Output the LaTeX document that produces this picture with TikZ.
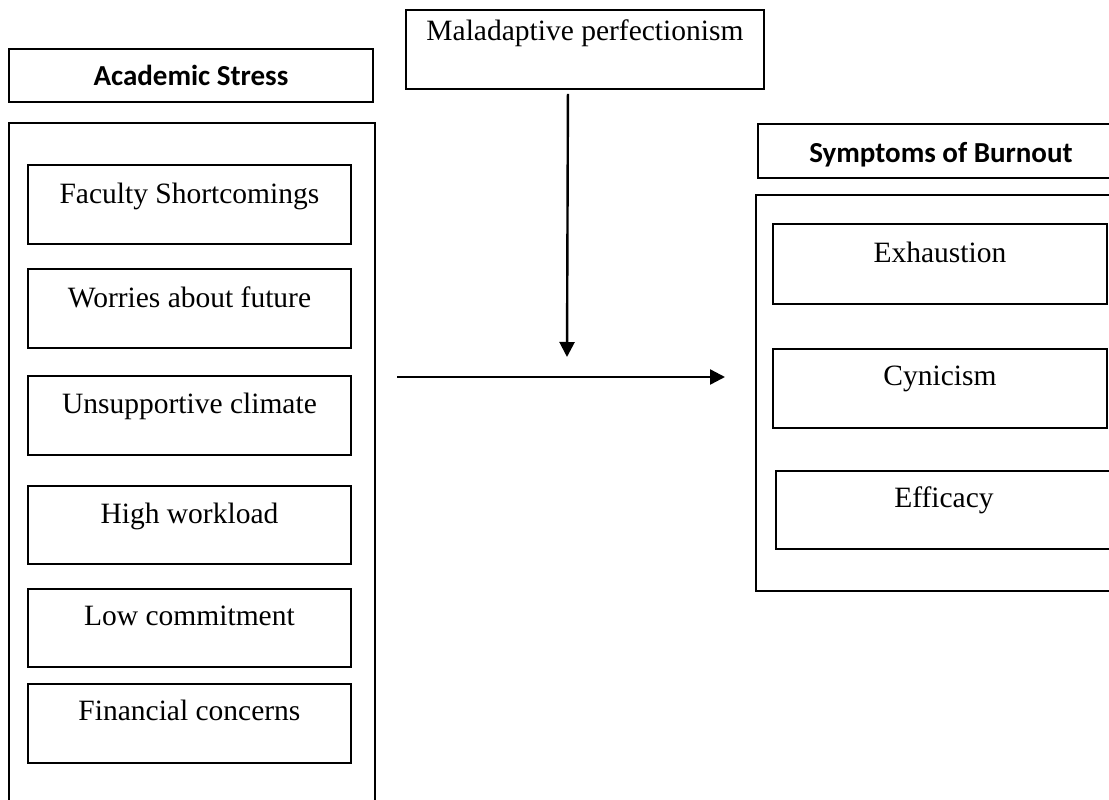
\documentclass[tikz,border=0pt]{standalone}
\usepackage{fontspec}
\setmainfont{Liberation Serif}
\newfontfamily\headfont{Carlito}
\usetikzlibrary{arrows.meta}
\begin{document}
\begin{tikzpicture}[x=1pt,y=-1pt,
  bx/.style={draw=black, line width=1.9pt, inner sep=0pt, anchor=north west,
    font=\fontsize{29.5}{34}\selectfont},
  hd/.style={bx, font=\headfont\bfseries\fontsize{29}{34}\selectfont},
  arr/.style={line width=2.4pt, -{Triangle[length=15pt,width=15pt]}}]
\clip (0,0) rectangle (1109,800);
\fill[white] (0,0) rectangle (1109,800);
% left column
\node[hd, minimum width=364pt, text height=37pt, text depth=16pt] (acad) at (8,48) {Academic Stress};
\node[bx, minimum width=366pt, minimum height=700pt] (outerL) at (8,122) {};
\node[bx, minimum width=323pt, text height=39pt, text depth=40pt] (fac) at (27,164) {Faculty Shortcomings};
\node[bx, minimum width=323pt, text height=39pt, text depth=40pt] (wor) at (27,268) {Worries about future};
\node[bx, minimum width=323pt, text height=38pt, text depth=41pt] (uns) at (27,375) {Unsupportive climate};
\node[bx, minimum width=323pt, text height=38pt, text depth=40pt] (high) at (27,485) {High workload};
\node[bx, minimum width=323pt, text height=37pt, text depth=41pt] (low) at (27,588) {Low commitment};
\node[bx, minimum width=323pt, text height=37pt, text depth=42pt] (fin) at (27,683) {Financial concerns};
% moderator
\node[bx, minimum width=358pt, text height=31pt, text depth=48pt] (mal) at (405,9) {Maladaptive perfectionism};
% right column
\node[hd, minimum width=366pt, text height=39pt, text depth=15pt] (symp) at (757,123) {Symptoms of Burnout};
\node[bx, minimum width=370pt, minimum height=396pt] (outerR) at (755,194) {};
\node[bx, minimum width=334pt, text height=39pt, text depth=41pt] (exh) at (772,223) {Exhaustion};
\node[bx, minimum width=334pt, text height=37pt, text depth=42pt] (cyn) at (772,348) {Cynicism};
\node[bx, minimum width=336pt, text height=37pt, text depth=41pt] (eff) at (775,470) {Efficacy};
% arrows
\coordinate (vend) at (567,357);
\coordinate (h1) at (397,377);
\coordinate (h2) at (725,377);
\draw[arr] ([xshift=-17pt,yshift=-4pt]mal.south) -- (vend);
\draw[arr] (h1) -- (h2);
\end{tikzpicture}
\end{document}
